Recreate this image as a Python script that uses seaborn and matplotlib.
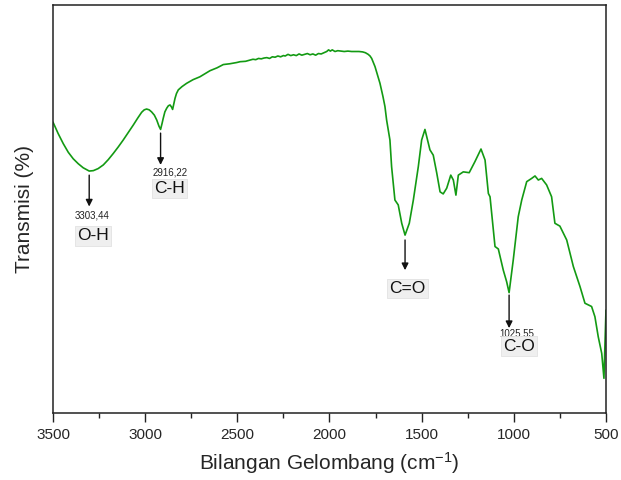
import numpy as np
import pandas as pd
import matplotlib
matplotlib.use("Agg")
import matplotlib.pyplot as plt
import seaborn as sns

# FTIR spectrum: wavenumber (cm^-1) and transmittance (%)
wavenumber = [
    3500, 3472, 3444, 3417, 3390, 3363, 3336, 3303.44, 3281, 3255, 3227, 3200,
    3173, 3146, 3119, 3092, 3064, 3040, 3019, 3005, 2992, 2978, 2965, 2950,
    2937, 2925, 2916.22, 2908, 2902, 2893, 2883, 2874, 2865, 2857, 2851, 2845,
    2838, 2830, 2820, 2800, 2775, 2740, 2703, 2670, 2648, 2610, 2576, 2540,
    2503, 2485, 2455, 2431, 2415, 2400, 2385, 2370, 2355, 2340, 2325, 2310,
    2295, 2280, 2265, 2250, 2240, 2225, 2210, 2195, 2180, 2165, 2150, 2135,
    2120, 2105, 2090, 2075, 2060, 2045, 2030, 2015, 2005, 1995, 1985, 1970,
    1955, 1940, 1920, 1900, 1880, 1860, 1840, 1820, 1805, 1790, 1780, 1771,
    1753, 1726, 1710, 1699, 1690, 1672, 1663, 1645, 1627, 1608, 1590, 1567,
    1545, 1518, 1500, 1482, 1455, 1437, 1418, 1400, 1383, 1364, 1342, 1328,
    1314, 1301, 1274, 1242, 1211, 1178, 1156, 1138, 1129, 1102, 1084, 1057,
    1039, 1025.55, 1003, 976, 957, 930, 903, 885, 867, 849, 822, 795, 777, 750,
    713, 677, 641, 614, 578, 560, 542, 523, 511, 500,
]
transmittance = [
    71.3, 68.5, 66.0, 63.9, 62.3, 61.1, 60.1, 59.3, 59.4, 59.9, 60.8, 62.1,
    63.6, 65.2, 66.9, 68.7, 70.6, 72.3, 73.7, 74.3, 74.5, 74.3, 73.8, 73.0,
    71.8, 70.3, 69.5, 71.0, 72.2, 73.8, 74.7, 75.3, 75.5, 75.0, 74.4, 75.7,
    77.1, 78.3, 79.2, 80.0, 80.8, 81.7, 82.4, 83.3, 83.9, 84.6, 85.4, 85.6,
    85.9, 86.1, 86.2, 86.5, 86.7, 86.6, 86.9, 86.8, 87.0, 87.1, 86.9, 87.3,
    87.2, 87.5, 87.3, 87.6, 87.5, 87.9, 87.6, 87.8, 87.6, 88.0, 87.7, 87.9,
    88.1, 87.8, 88.0, 87.7, 88.1, 88.0, 88.3, 88.6, 89.0, 88.7, 89.0, 88.6,
    88.8, 88.7, 88.6, 88.7, 88.6, 88.6, 88.6, 88.5, 88.3, 87.9, 87.5, 86.9,
    84.9, 80.8, 77.6, 75.1, 71.8, 66.9, 60.4, 52.2, 51.0, 46.5, 43.6, 46.5,
    52.2, 60.4, 66.9, 69.5, 64.5, 63.2, 58.8, 54.2, 53.7, 55.1, 58.3, 57.1,
    53.4, 58.3, 59.1, 58.9, 61.6, 64.7, 62.0, 53.8, 53.0, 40.8, 40.2, 35.0,
    32.2, 29.5, 37.5, 48.1, 52.2, 56.7, 57.5, 58.1, 57.1, 57.5, 55.9, 53.0,
    46.5, 45.8, 42.4, 35.9, 31.0, 26.9, 26.1, 23.6, 18.7, 14.6, 8.5, 25.2,
]

# Band assignments: (wavenumber, group, value label)
band_pos = [3303.44, 2916.22, 1590, 1025.55]
band_group = ["O-H", "C-H", "C=O", "C-O"]
band_value = ["3303,44", "2916,22", "", "1025,55"]

df = pd.DataFrame({"Bilangan Gelombang": wavenumber, "Transmisi": transmittance})

sns.set_style("ticks")
plt.rcParams["font.family"] = ["Liberation Sans", "DejaVu Sans"]
plt.rcParams["mathtext.fontset"] = "custom"
plt.rcParams["mathtext.rm"] = "Liberation Sans"
plt.rcParams["mathtext.it"] = "Liberation Sans"
plt.rcParams["mathtext.default"] = "regular"

fig = plt.figure(figsize=(6.21, 4.8), dpi=100)
ax = fig.add_axes([0.0853, 0.1396, 0.8905, 0.85])

sns.lineplot(data=df, x="Bilangan Gelombang", y="Transmisi", ax=ax,
             color="#139a13", linewidth=1.2, estimator=None)

ax.set_xlim(3500, 500)
ax.set_ylim(0, 100)
ax.set_xticks([3500, 3000, 2500, 2000, 1500, 1000, 500])
ax.set_xticks([3250, 2750, 2250, 1750, 1250, 750], minor=True)
ax.set_yticks([])
ax.tick_params(axis="x", which="major", length=6.5, width=1.0, labelsize=11,
               direction="out", color="#222222", pad=4)
ax.tick_params(axis="x", which="minor", length=3.5, width=1.0,
               direction="out", color="#222222")
for side in ["left", "right", "top", "bottom"]:
    ax.spines[side].set_visible(True)
    ax.spines[side].set_linewidth(1.1)
    ax.spines[side].set_color("#222222")

ax.set_xlabel("Bilangan Gelombang (cm$^{-1}$)", fontsize=15, labelpad=6)
ax.set_ylabel("Transmisi (%)", fontsize=15, labelpad=14)

# Arrow spans (transmittance) and label anchors for each band
arrow_top = [58.3, 68.6, 42.4, 28.9]
arrow_bot = [50.6, 60.8, 35.0, 20.8]
value_xy = [(3286, 48.5), (2866, 59.0), (None, None), (983, 19.4)]
group_xy = [(3283, 43.4), (2868, 55.0), (1576, 30.6), (972, 16.4)]

box = dict(boxstyle="square,pad=0.12", facecolor="#efefef", edgecolor="#e2e2e2",
           linewidth=0.6)
for pos, grp, val, top, bot, vxy, gxy in zip(band_pos, band_group, band_value,
                                             arrow_top, arrow_bot, value_xy, group_xy):
    ax.annotate("", xy=(pos, bot), xytext=(pos, top),
                arrowprops=dict(arrowstyle="-|>", color="#111111", lw=1.0,
                                mutation_scale=10, shrinkA=0, shrinkB=0))
    if val:
        ax.text(vxy[0], vxy[1], val, ha="center", va="center", fontsize=7,
                color="#222222")
    ax.text(gxy[0], gxy[1], grp, ha="center", va="center", fontsize=12.5,
            color="#111111", bbox=box)

fig.savefig("out.png", dpi=100)
